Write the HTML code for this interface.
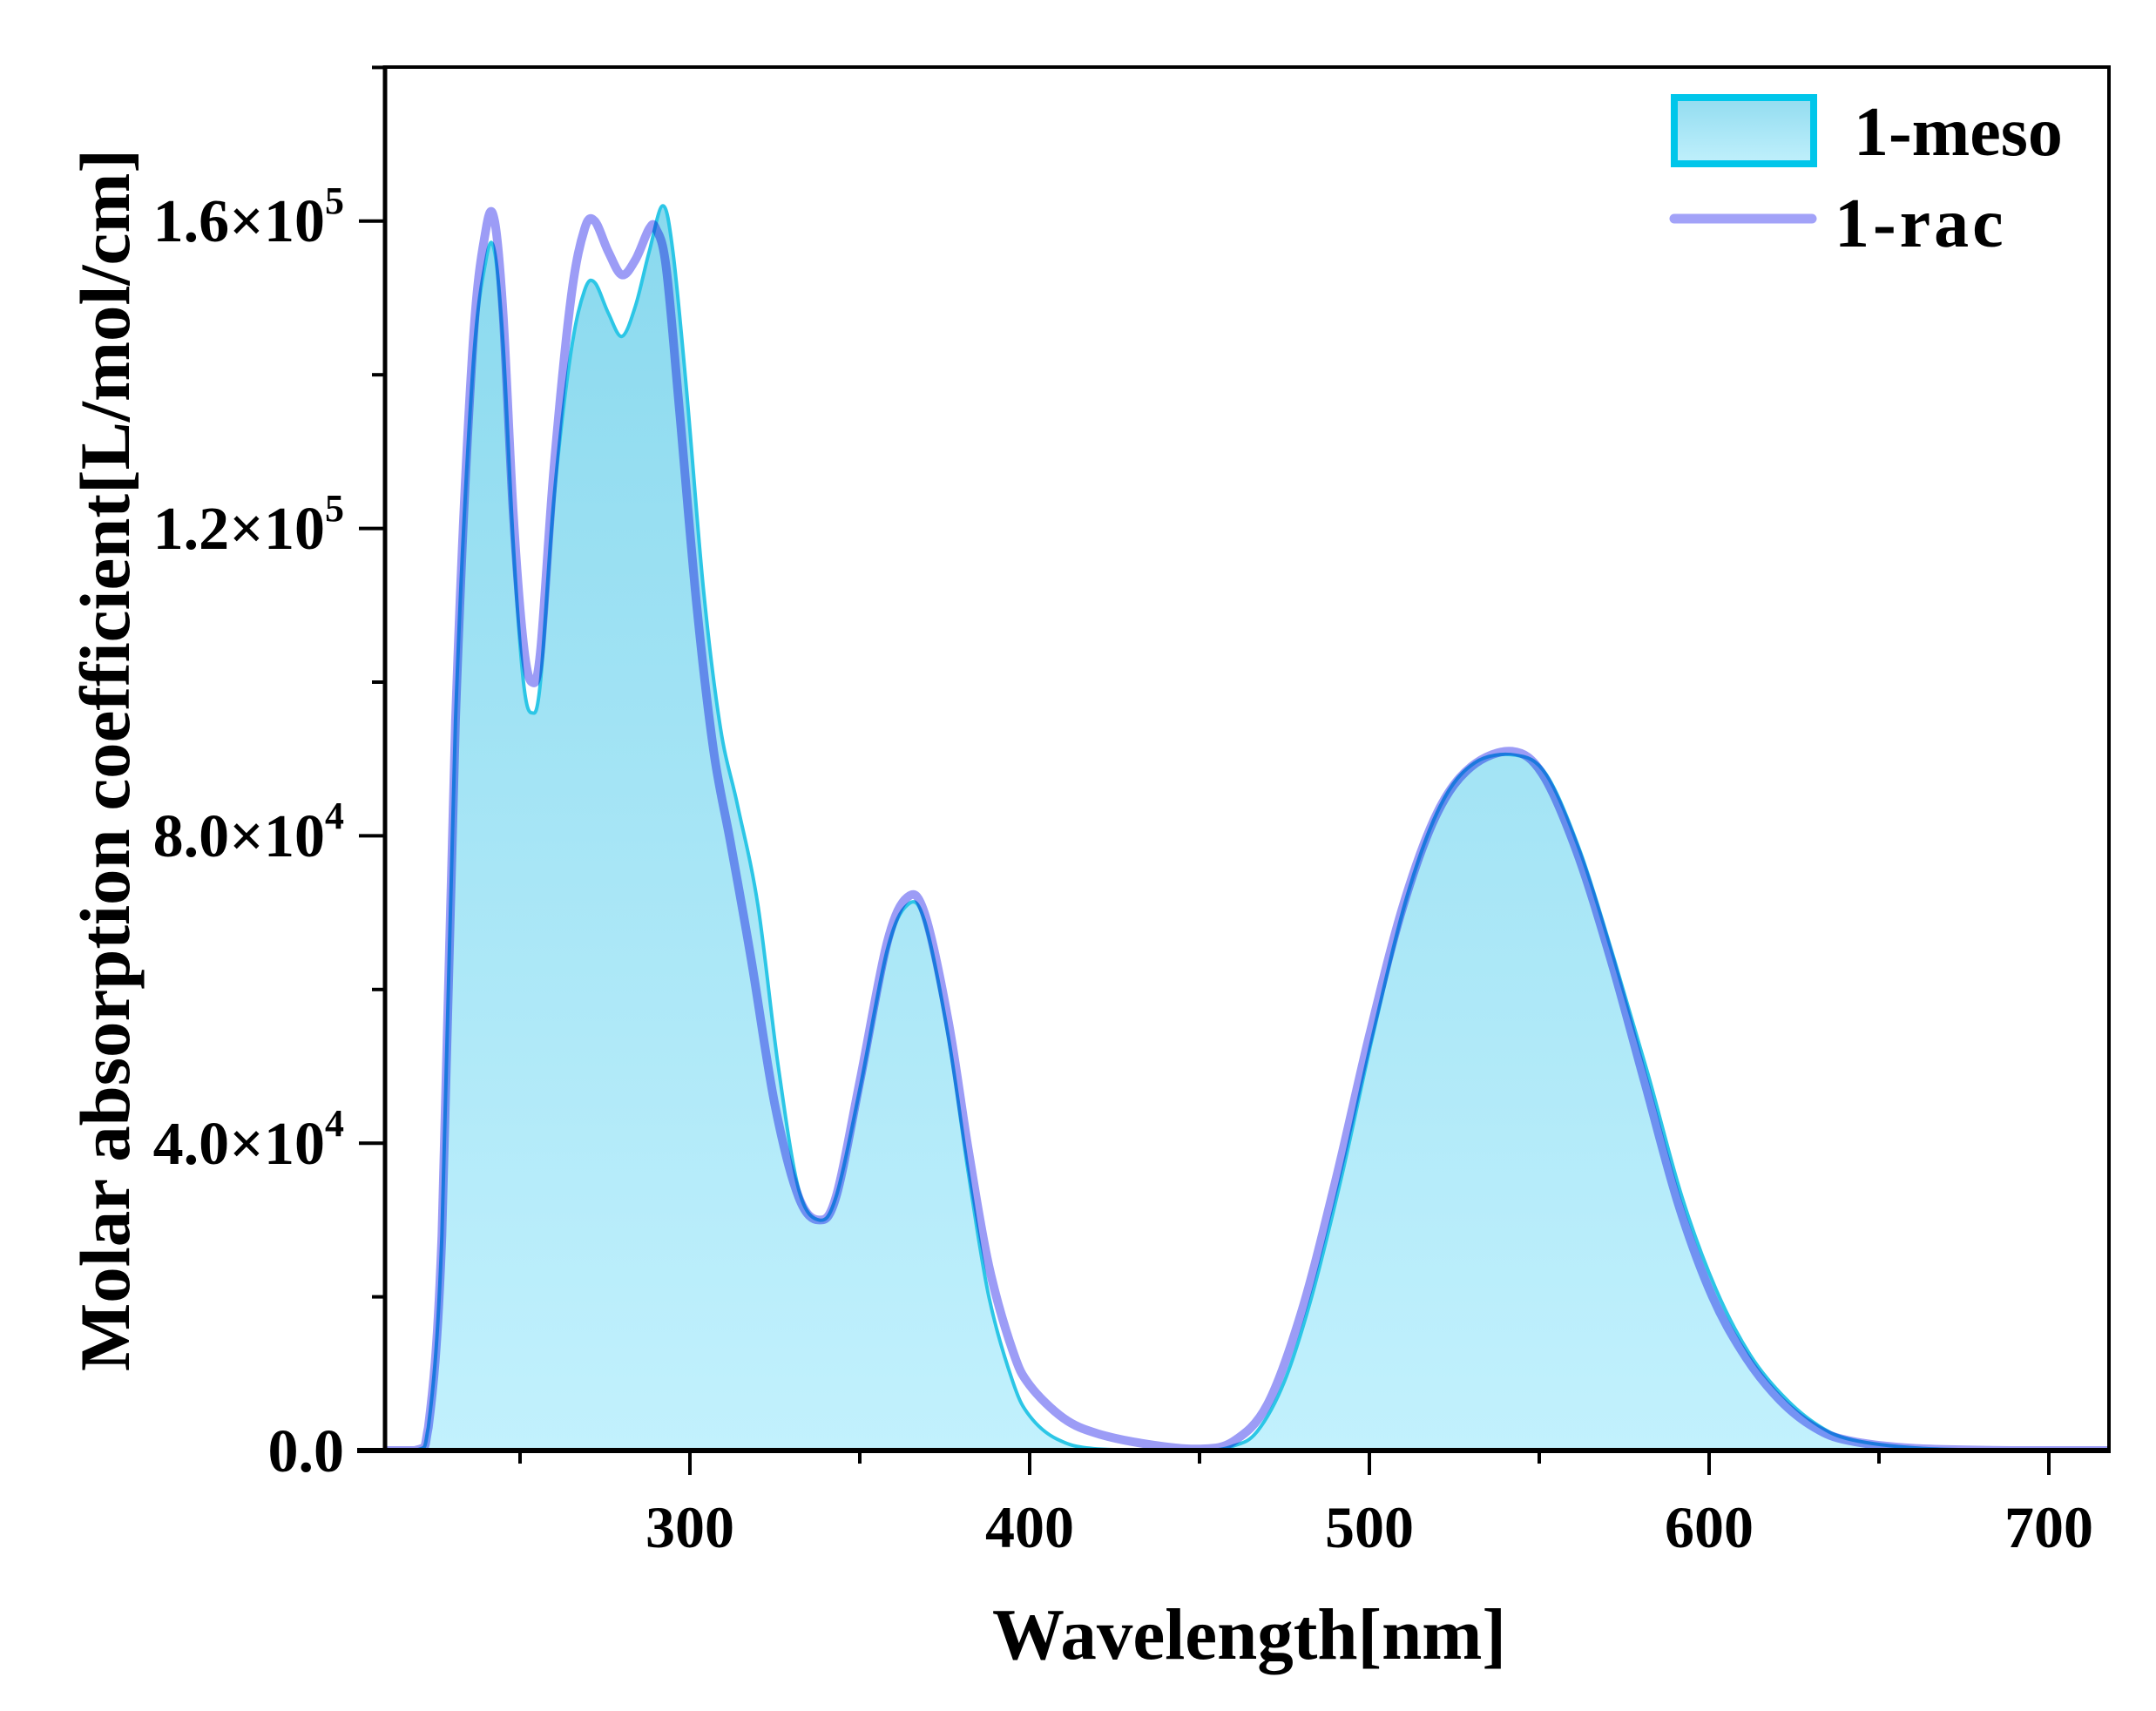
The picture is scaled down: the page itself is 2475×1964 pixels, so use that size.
<!DOCTYPE html>
<html><head><meta charset="utf-8"><style>
html,body{margin:0;padding:0;background:#fff}
svg{display:block}
text{font-family:"Liberation Serif",serif;font-weight:bold;fill:#000}
</style></head><body>
<svg id="s" width="2475" height="1964" viewBox="0 0 2475 1964" xmlns="http://www.w3.org/2000/svg">
<defs>
<linearGradient id="g" x1="0" y1="0" x2="0" y2="1">
<stop offset="0" stop-color="#8ad9ee"/><stop offset="1" stop-color="#c2f1fd"/>
</linearGradient>
<linearGradient id="lg" x1="0" y1="0" x2="0" y2="1">
<stop offset="0" stop-color="#92dcf0"/><stop offset="1" stop-color="#c0f0fc"/>
</linearGradient>
<clipPath id="c"><rect x="442" y="77" width="1979" height="1588"/></clipPath>
</defs>
<g clip-path="url(#c)">
<path id="mfill" fill="url(#g)" stroke="none"/>
<path id="mline" fill="none" stroke="#2cc6e6" stroke-width="4"/>
<path id="rline" fill="none" stroke="#9c9cf6" stroke-width="10" stroke-linejoin="round" style="mix-blend-mode:multiply"/>
</g>
<rect x="442" y="77" width="1979" height="1588" fill="none" stroke="#000" stroke-width="4"/>
<line x1="410" y1="1665" x2="2423" y2="1665" stroke="#000" stroke-width="6"/>
<line x1="442" y1="75" x2="442" y2="1667" stroke="#000" stroke-width="5"/>
<g id="ticks" stroke="#000" stroke-width="4"></g>
<g font-size="70" text-anchor="end">
<text x="395" y="1689">0.0</text>
<text x="395" y="1336">4.0×10<tspan font-size="44" dy="-32">4</tspan></text>
<text x="395" y="983">8.0×10<tspan font-size="44" dy="-32">4</tspan></text>
<text x="395" y="630">1.2×10<tspan font-size="44" dy="-32">5</tspan></text>
<text x="395" y="277">1.6×10<tspan font-size="44" dy="-32">5</tspan></text>
</g>
<g font-size="68" text-anchor="middle">
<text x="792" y="1776">300</text>
<text x="1182" y="1776">400</text>
<text x="1572" y="1776">500</text>
<text x="1962" y="1776">600</text>
<text x="2352" y="1776">700</text>
</g>
<text x="1139" y="1904" font-size="84" textLength="590" lengthAdjust="spacingAndGlyphs">Wavelength[nm]</text>
<text transform="translate(148,1574) rotate(-90)" font-size="82" textLength="1403" lengthAdjust="spacingAndGlyphs">Molar absorption coefficient[L/mol/cm]</text>
<rect x="1922" y="112" width="160" height="76" fill="url(#lg)" stroke="#00c6ea" stroke-width="8"/>
<text x="2128" y="178" font-size="80">1-meso</text>
<line x1="1922" y1="251" x2="2080" y2="251" stroke="#a2a2f8" stroke-width="11" stroke-linecap="round"/>
<text x="2106" y="283" font-size="80" letter-spacing="4">1-rac</text>
</svg>
<script>
function X(n){return 792+(n-300)*3.9}
function Y(v){return 1665-v*88.2}
var rac=[[200,0],[219,0],[223,0.3],[227,2.8],[231,9.5],[236,14.3],[240,15.9],[242.5,16.0],[245,14.8],[248,12.2],[251,10.5],[253.5,10.0],[256,10.4],[260,12.8],[265,15.0],[269,15.9],[272,16.0],[276,15.6],[280,15.3],[284,15.5],[288,15.9],[290,15.9],[293,15.4],[297,13.5],[302,11],[307,9.1],[312,7.9],[318,6.4],[325,4.5],[332,3.3],[338,3.0],[343,3.3],[350,4.8],[358,6.6],[364,7.2],[369,7.0],[376,5.6],[382,3.9],[388,2.4],[395,1.3],[400,0.85],[410,0.42],[420,0.22],[435,0.08],[450,0.02],[460,0.12],[470,0.6],[480,1.8],[490,3.5],[500,5.4],[510,7.1],[520,8.3],[530,8.9],[542,9.1],[551,8.8],[561,7.8],[571,6.4],[581,4.8],[591,3.2],[601,2.0],[611,1.2],[621,0.65],[631,0.3],[641,0.13],[660,0.03],[690,0],[730,0]];
var meso=[[200,0],[219,0],[223,0.3],[227,2.8],[231,9.5],[236,14.0],[240,15.5],[242.5,15.6],[245,14.4],[248,11.8],[251,10.0],[253.5,9.6],[256,10.0],[260,12.4],[265,14.3],[269,15.1],[272,15.2],[276,14.8],[280,14.5],[284,14.9],[288,15.6],[292,16.2],[295,15.6],[299,13.8],[304,11.2],[309,9.4],[314,8.4],[320,7.1],[326,5.0],[332,3.4],[338,3.0],[343,3.3],[350,4.7],[358,6.5],[364,7.1],[369,6.9],[376,5.4],[382,3.6],[388,2.0],[395,0.9],[400,0.45],[408,0.15],[420,0.02],[450,0.0],[460,0.06],[467,0.25],[475,0.9],[483,2.0],[492,3.6],[501,5.4],[511,7.2],[521,8.4],[531,8.95],[543,9.05],[552,8.8],[562,7.8],[572,6.4],[582,4.9],[592,3.3],[602,2.1],[612,1.25],[622,0.7],[632,0.33],[642,0.14],[662,0.03],[690,0],[730,0]];
function path(d){var p=d.map(function(a){return [X(a[0]),Y(a[1])]});var s="M"+p[0][0]+","+p[0][1];
for(var i=0;i<p.length-1;i++){var p0=p[i-1]||p[i],p1=p[i],p2=p[i+1],p3=p[i+2]||p2;
var c1x=p1[0]+(p2[0]-p0[0])/6,c1y=p1[1]+(p2[1]-p0[1])/6,c2x=p2[0]-(p3[0]-p1[0])/6,c2y=p2[1]-(p3[1]-p1[1])/6;
c1y=Math.min(c1y,1665);c2y=Math.min(c2y,1665);
s+="C"+c1x.toFixed(1)+","+c1y.toFixed(1)+" "+c2x.toFixed(1)+","+c2y.toFixed(1)+" "+p2[0].toFixed(1)+","+p2[1].toFixed(1);}
return s;}
var m=path(meso);
document.getElementById("mline").setAttribute("d",m);
document.getElementById("mfill").setAttribute("d",m+"L"+X(730)+",1665L"+X(200)+",1665Z");
document.getElementById("rline").setAttribute("d",path(rac));
var t=document.getElementById("ticks"),h="";
for(var n=250;n<=700;n+=50){var x=X(n);h+='<line x1="'+x+'" y1="1665" x2="'+x+'" y2="'+(n%100==0?1693:1680)+'"/>';}
for(var v=0;v<=18;v+=2){var y=Y(v);h+='<line x1="'+(v%4==0?412:427)+'" y1="'+y+'" x2="442" y2="'+y+'"/>';}
t.innerHTML=h;
</script>
</body></html>
